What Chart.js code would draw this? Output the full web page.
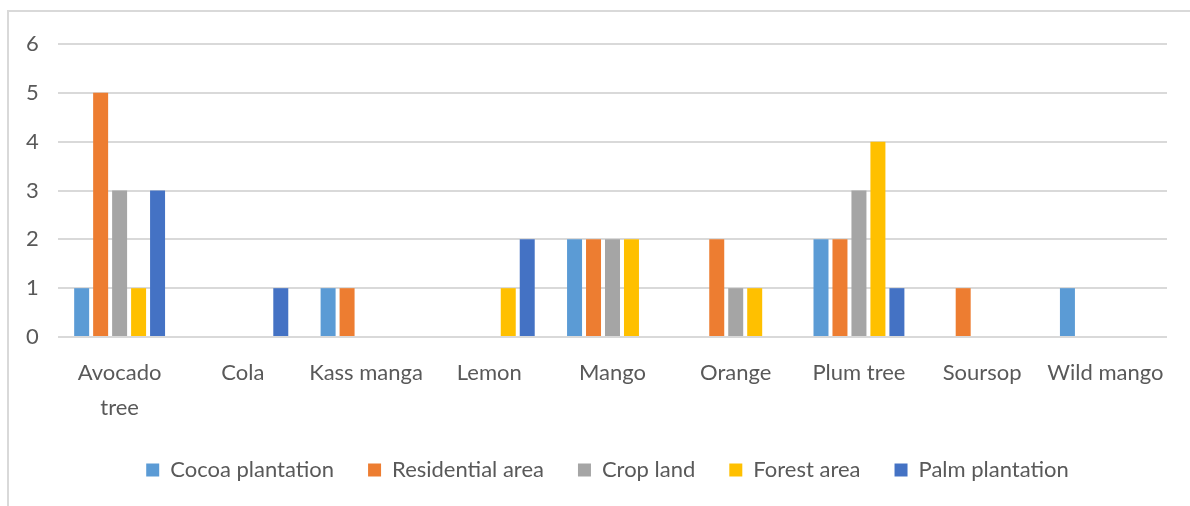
<!DOCTYPE html>
<html>
<head>
<meta charset="utf-8">
<script src="https://cdn.jsdelivr.net/npm/chart.js@4/dist/chart.umd.min.js"></script>
<style>
  html, body { margin: 0; padding: 0; background: #fff; }
  #frame { position: absolute; left: 7px; top: 10px; width: 1300px; height: 600px; border: 2px solid #d9d9d9; }
  #wrap { position: absolute; left: 0; top: 0; width: 1190px; height: 506px; }
</style>
</head>
<body>
<div id="frame"></div>
<div id="wrap"><canvas id="grafico"></canvas></div>
<script>
// categorias y series
const categorias = [['Avocado', 'tree'], 'Cola', 'Kass manga', 'Lemon', 'Mango', 'Orange', 'Plum tree', 'Soursop', 'Wild mango'];
const cocoa = [1, 0, 1, 0, 2, 0, 2, 0, 1];
const residencial = [5, 0, 1, 0, 2, 2, 2, 1, 0];
const cultivo = [3, 0, 0, 0, 2, 1, 3, 0, 0];
const bosque = [1, 0, 0, 1, 2, 1, 4, 0, 0];
const palma = [3, 1, 0, 2, 0, 0, 1, 0, 0];
const ticksY = [0, 1, 2, 3, 4, 5, 6];

const gris = '#595959';
const fuente = "Lato, 'Liberation Sans', sans-serif";

function serie(nombre, datos, color) {
    return { label: nombre, data: datos, backgroundColor: color, borderWidth: 0 };
}

new Chart(document.getElementById('grafico'), {
    type: 'bar',
    data: {
        labels: categorias,
        datasets: [
            serie('Cocoa plantation', cocoa, '#5B9BD5'),
            serie('Residential area', residencial, '#ED7D31'),
            serie('Crop land', cultivo, '#A5A5A5'),
            serie('Forest area', bosque, '#FFC000'),
            serie('Palm plantation', palma, '#4472C4')
        ]
    },
    options: {
        responsive: true,
        maintainAspectRatio: false,
        animation: false,
        categoryPercentage: 0.77,
        barPercentage: 0.79,
        layout: { padding: { left: 48, right: 23, top: 44, bottom: 15 } },
        plugins: {
            tooltip: { enabled: false },
            legend: {
                position: 'bottom',
                labels: {
                    boxWidth: 13,
                    boxHeight: 13,
                    padding: 34,
                    color: gris,
                    font: { family: fuente, size: 22 }
                }
            }
        },
        scales: {
            x: {
                afterFit: (s) => { s.height = 88; },
                grid: { display: false, drawTicks: false },
                border: { display: false },
                ticks: {
                    color: gris,
                    padding: 18,
                    maxRotation: 0,
                    autoSkip: false,
                    font: { family: fuente, size: 22, lineHeight: 1.6 }
                }
            },
            y: {
                min: 0,
                max: 6,
                afterFit: (s) => { s.width = 10; },
                afterBuildTicks: (s) => { s.ticks = ticksY.map(v => ({ value: v })); },
                grid: { color: '#d9d9d9', lineWidth: 2, drawTicks: false },
                border: { display: false },
                ticks: {
                    mirror: true,
                    color: gris,
                    padding: -32,
                    font: { family: fuente, size: 22 }
                }
            }
        }
    }
});
</script>
</body>
</html>
